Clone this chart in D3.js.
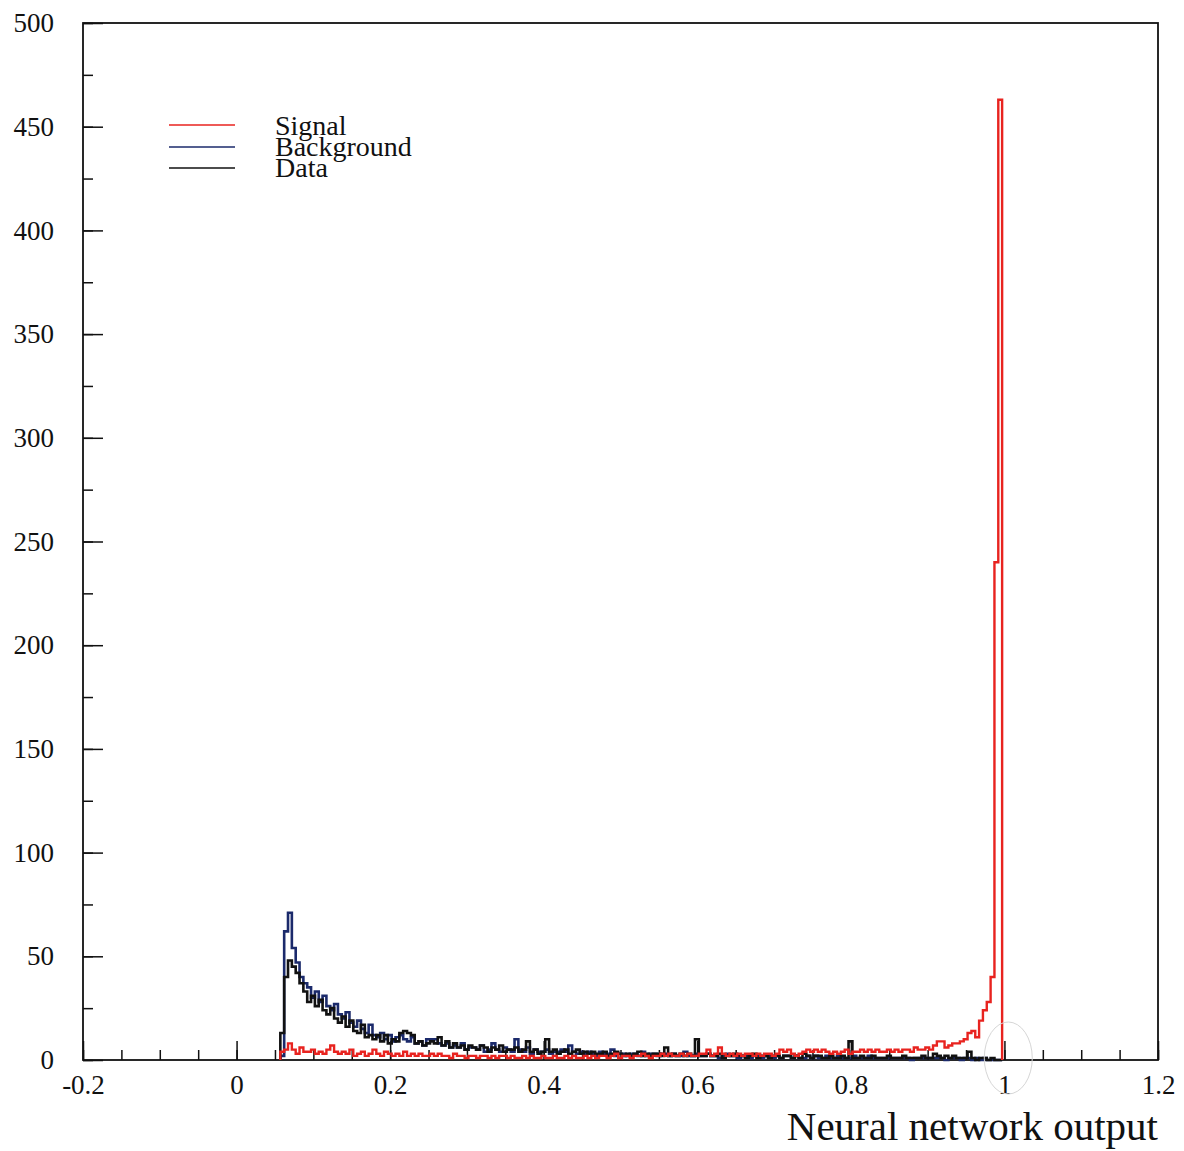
<!DOCTYPE html>
<html>
<head>
<meta charset="utf-8">
<script src="https://cdn.jsdelivr.net/npm/d3@7"></script>
<style>
  html, body { margin: 0; padding: 0; background: #ffffff; }
  svg { display: block; }
</style>
</head>
<body>
<svg id="chart" width="1184" height="1151"></svg>
<script>
// ---- data: histogram bins of width 0.005 starting at 0.057 ----
const binStart = 0.057;
const binWidth = 0.005;

const background = [
  2, 62, 71, 54, 47, 40, 37, 35, 30, 33,
  28, 31, 26, 24, 27, 22, 20, 23, 18, 16,
  19, 15, 13, 17, 12, 11, 13, 10, 12, 9,
  11, 12, 10, 9, 11, 8, 9, 7, 10, 10,
  10, 8, 7, 8, 6, 7, 6, 8, 5, 6,
  6, 5, 7, 4, 5, 8, 5, 4, 6, 5,
  4, 10, 5, 4, 6, 3, 5, 4, 4, 5,
  3, 4, 4, 5, 4, 7, 4, 3, 4, 3,
  4, 3, 2, 4, 3, 3, 5, 2, 3, 3,
  2, 3, 3, 2, 4, 2, 3, 3, 2, 3,
  3, 2, 3, 2, 2, 4, 2, 2, 3, 2,
  2, 3, 2, 2, 1, 2, 3, 2, 2, 1,
  2, 2, 1, 2, 2, 1, 2, 2, 1, 2,
  1, 2, 2, 1, 2, 1, 1, 2, 1, 2,
  1, 1, 2, 1, 1, 2, 1, 1, 1, 2,
  1, 1, 1, 2, 1, 1, 1, 1, 1, 1,
  1, 1, 1, 1, 0, 1, 1, 1, 1, 1,
  1, 1, 1, 0, 1, 1, 1, 0, 1, 1,
  0, 1, 0, 1, 0, 0, 0, 0
];

const data = [
  13, 40, 48, 45, 42, 37, 33, 28, 31, 26,
  29, 24, 22, 25, 20, 18, 21, 16, 19, 14,
  13, 17, 11, 12, 10, 12, 9, 12, 8, 10,
  9, 13, 14, 13, 12, 8, 9, 7, 8, 9,
  8, 11, 7, 9, 6, 8, 6, 7, 5, 7,
  6, 5, 7, 6, 4, 6, 5, 7, 4, 5,
  5, 6, 4, 5, 9, 4, 5, 3, 4, 10,
  4, 5, 3, 4, 5, 3, 4, 5, 3, 4,
  3, 4, 3, 3, 4, 2, 3, 4, 3, 2,
  3, 2, 3, 4, 2, 3, 2, 3, 3, 2,
  6, 2, 3, 2, 3, 2, 3, 2, 10, 2,
  2, 3, 2, 2, 3, 1, 2, 2, 3, 2,
  2, 1, 2, 3, 1, 2, 2, 1, 2, 2,
  1, 2, 2, 1, 2, 1, 3, 2, 1, 2,
  2, 1, 1, 2, 1, 1, 2, 1, 9, 1,
  1, 2, 1, 1, 2, 1, 1, 1, 2, 1,
  1, 1, 2, 1, 1, 1, 1, 2, 1, 1,
  3, 2, 1, 2, 1, 2, 1, 1, 1, 4,
  1, 0, 1, 1, 0, 1, 0, 0
];

const signal = [
  4, 5, 8, 5, 3, 6, 4, 4, 5, 3,
  4, 3, 5, 7, 4, 3, 4, 3, 5, 2,
  3, 4, 2, 3, 5, 3, 2, 4, 3, 2,
  3, 2, 4, 2, 3, 2, 3, 2, 2, 3,
  2, 3, 2, 2, 1, 3, 2, 2, 1, 2,
  2, 1, 2, 2, 1, 2, 1, 2, 2, 1,
  2, 1, 1, 2, 1, 2, 1, 1, 2, 1,
  1, 2, 1, 1, 2, 1, 2, 1, 1, 2,
  1, 2, 1, 2, 2, 1, 2, 3, 1, 2,
  2, 1, 2, 2, 3, 2, 1, 2, 2, 3,
  2, 3, 2, 2, 3, 2, 3, 2, 2, 3,
  3, 5, 2, 3, 6, 3, 2, 3, 2, 3,
  2, 3, 3, 2, 3, 2, 3, 3, 2, 3,
  5, 4, 5, 3, 2, 3, 4, 5, 4, 5,
  4, 5, 4, 3, 4, 3, 4, 5, 3, 4,
  4, 5, 4, 5, 4, 5, 4, 4, 5, 4,
  5, 4, 5, 5, 4, 6, 5, 5, 6, 5,
  7, 9, 9, 6, 7, 8, 8, 9, 10, 13,
  14, 11, 19, 24, 28, 40, 240, 463
];

const xTicks = [-0.2, 0, 0.2, 0.4, 0.6, 0.8, 1, 1.2];
const xTickLabels = ["-0.2", "0", "0.2", "0.4", "0.6", "0.8", "1", "1.2"];
const yTicks = [0, 50, 100, 150, 200, 250, 300, 350, 400, 450, 500];

const seriesNames = ["Signal", "Background", "Data"];
const seriesColors = ["#e8231f", "#1b2a6b", "#111111"];

// ---- layout ----
const svg = d3.select("#chart");
const plotLeft = 83, plotRight = 1158, plotTop = 23, plotBottom = 1060;
const x = d3.scaleLinear().domain([-0.2, 1.2]).range([plotLeft, plotRight]);
const y = d3.scaleLinear().domain([0, 500]).range([plotBottom, plotTop]);
const font = "'Liberation Serif', 'Times New Roman', serif";

// minor ticks
const xMinor = d3.range(-0.2, 1.2001, 0.05).map(v => +v.toFixed(3));
const yMinor = d3.range(0, 500.1, 25);

svg.append("g")
  .attr("transform", `translate(0,${plotBottom})`)
  .call(d3.axisBottom(x).tickValues(xMinor).tickSize(-10).tickSizeOuter(0).tickFormat(""))
  .call(g => g.select(".domain").remove())
  .call(g => g.selectAll("line").attr("stroke", "#111").attr("stroke-width", 1.5));

svg.append("g")
  .attr("transform", `translate(${plotLeft},0)`)
  .call(d3.axisLeft(y).tickValues(yMinor).tickSize(-10).tickSizeOuter(0).tickFormat(""))
  .call(g => g.select(".domain").remove())
  .call(g => g.selectAll("line").attr("stroke", "#111").attr("stroke-width", 1.5));

// major ticks with labels
svg.append("g")
  .attr("transform", `translate(0,${plotBottom})`)
  .call(d3.axisBottom(x).tickValues(xTicks).tickSize(-19).tickSizeOuter(0).tickPadding(15)
    .tickFormat((d, i) => xTickLabels[i]))
  .call(g => g.select(".domain").remove())
  .call(g => g.selectAll("line").attr("stroke", "#111").attr("stroke-width", 1.5))
  .call(g => g.selectAll("text").attr("font-family", font).attr("font-size", 27).attr("fill", "#111"));

svg.append("g")
  .attr("transform", `translate(${plotLeft},0)`)
  .call(d3.axisLeft(y).tickValues(yTicks).tickSize(-20).tickSizeOuter(0).tickPadding(29))
  .call(g => g.select(".domain").remove())
  .call(g => g.selectAll("line").attr("stroke", "#111").attr("stroke-width", 1.5))
  .call(g => g.selectAll("text").attr("font-family", font).attr("font-size", 27).attr("fill", "#111"));

// frame
svg.append("rect")
  .attr("x", plotLeft).attr("y", plotTop)
  .attr("width", plotRight - plotLeft).attr("height", plotBottom - plotTop)
  .attr("fill", "none").attr("stroke", "#111").attr("stroke-width", 1.8);

// histograms
function stepPoints(values) {
  const pts = [[binStart, 0]];
  values.forEach((v, i) => {
    const x0 = binStart + i * binWidth;
    pts.push([x0, v], [x0 + binWidth, v]);
  });
  pts.push([binStart + values.length * binWidth, 0]);
  return pts;
}
const line = d3.line().x(d => x(d[0])).y(d => y(d[1]));

const plot = svg.append("g");
[[background, seriesColors[1], 2.6], [data, seriesColors[2], 2.6], [signal, seriesColors[0], 2.4]].forEach(([vals, col, w]) => {
  plot.append("path")
    .attr("d", line(stepPoints(vals)))
    .attr("fill", "none")
    .attr("stroke", col)
    .attr("stroke-width", w)
    .attr("stroke-linejoin", "miter");
});

// faint hand-drawn circle annotation near x = 1
svg.append("ellipse")
  .attr("cx", x(1.005)).attr("cy", plotBottom - 2)
  .attr("rx", 24).attr("ry", 36)
  .attr("fill", "none").attr("stroke", "#d6d6d6").attr("stroke-width", 1);

// legend
const legend = svg.append("g");
const legY = [125, 147, 168];
const legText = [135, 156, 177];
seriesNames.forEach((name, i) => {
  legend.append("line")
    .attr("x1", 169).attr("x2", 235)
    .attr("y1", legY[i]).attr("y2", legY[i])
    .attr("stroke", seriesColors[i]).attr("stroke-width", 1.3);
  legend.append("text")
    .attr("x", 275).attr("y", legText[i])
    .attr("font-family", font).attr("font-size", 28).attr("fill", "#111")
    .text(name);
});

// axis title
svg.append("text")
  .attr("x", plotRight).attr("y", 1140)
  .attr("text-anchor", "end")
  .attr("font-family", font).attr("font-size", 41).attr("fill", "#111")
  .text("Neural network output");
</script>
</body>
</html>
